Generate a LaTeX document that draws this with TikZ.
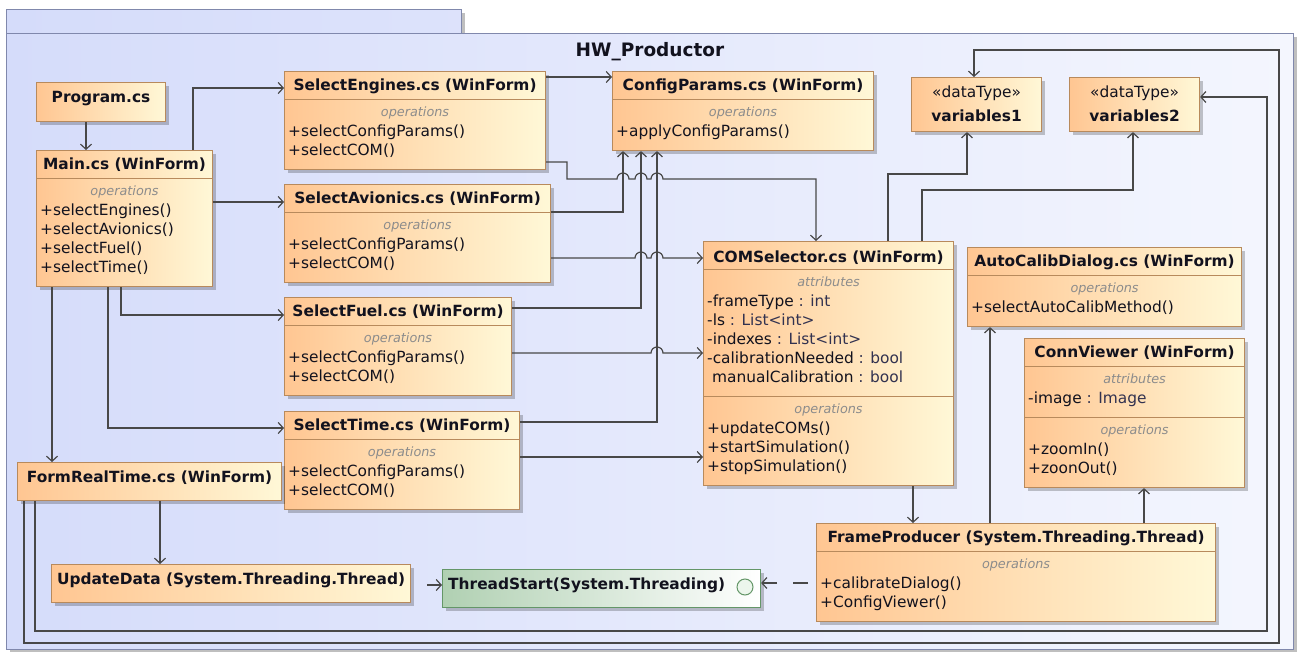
\documentclass[tikz,border=0pt]{standalone}
\usepackage{fontspec}
\setmainfont{DejaVu Sans}
\usetikzlibrary{arrows.meta,shadows}

\definecolor{pkgL}{RGB}{213,220,250}
\definecolor{pkgR}{RGB}{244,246,254}
\definecolor{pkgB}{RGB}{128,136,172}
\definecolor{clsL}{RGB}{255,198,146}
\definecolor{clsR}{RGB}{255,248,215}
\definecolor{clsB}{RGB}{184,138,92}
\definecolor{itfL}{RGB}{176,208,178}
\definecolor{itfR}{RGB}{255,255,255}
\definecolor{itfB}{RGB}{100,150,104}
\definecolor{itfC}{RGB}{236,246,236}
\definecolor{lineC}{RGB}{72,72,72}
\definecolor{secC}{RGB}{140,140,140}
\definecolor{txtC}{RGB}{18,18,30}
\definecolor{typC}{RGB}{50,50,80}

\tikzset{
  pkgbox/.style={draw=pkgB, line width=1.2pt, left color=pkgL, right color=pkgR, inner sep=0pt, anchor=north west,
    drop shadow={shadow xshift=3pt, shadow yshift=-3pt, fill=black, opacity=0.25}},
  cls/.style={draw=clsB, line width=1.1pt, left color=clsL, right color=clsR, inner sep=0pt, anchor=north west,
    drop shadow={shadow xshift=3pt, shadow yshift=-3pt, fill=black, opacity=0.22}},
  itf/.style={cls, draw=itfB, left color=itfL, right color=itfR},
  sep/.style={draw=clsB, line width=0.9pt},
  nm/.style={font=\fontsize{15.4}{18}\selectfont\bfseries, text=txtC, inner sep=0pt, anchor=base},
  st/.style={font=\fontsize{15.4}{18}\selectfont, text=txtC, inner sep=0pt, anchor=base},
  sec/.style={font=\fontsize{12.8}{15}\selectfont\itshape, text=secC, inner sep=0pt, anchor=base},
  mem/.style={font=\fontsize{15.4}{18}\selectfont, text=txtC, inner sep=0pt, anchor=base west},
  assoc/.style={draw=lineC, line width=1.2pt, -{Straight Barb[length=5pt,width=11pt]}},
  real/.style={assoc, dash pattern=on 15pt off 16pt},
  hop/.style={start angle=180, end angle=0, radius=6pt},
}
% attribute type, set slightly lighter than its name
\newcommand{\attrtype}[1]{\textcolor{typC}{#1}}

\begin{document}
\begin{tikzpicture}[x=1pt,y=-1pt]
\useasboundingbox (0,0) rectangle (1298,652);
\fill[white] (0,0) rectangle (1298,652);

% package frame
\node[pkgbox, left color=pkgL, right color=pkgL!75!pkgR, minimum width=455pt, minimum height=25pt] (pkg-tab) at (6,9) {};
\node[pkgbox, minimum width=1287pt, minimum height=616pt] (pkg) at (6,33) {};
\node[font=\fontsize{18.5}{22}\selectfont\bfseries, text=txtC, inner sep=0pt, anchor=base] (pkg-n) at (650,57) {HW\_Productor};

% Program.cs
\node[cls, minimum width=129pt, minimum height=39pt] (prog) at (36,82) {};
\node[nm] (prog-n) at (prog.north |- 0,102.5) {Program.cs};

% Main.cs
\node[cls, minimum width=176pt, minimum height=136pt] (main) at (36,150) {};
\draw[sep] (main.west |- 0,178) -- (main.east |- 0,178);
\node[nm] (main-n) at (main.north |- 0,169.5) {Main.cs (WinForm)};
\node[sec] (main-s) at (main.north |- 0,195.5) {operations};
\node[mem] (main-m1) at (40,215.5) {+selectEngines()};
\node[mem] (main-m2) at (40,234.5) {+selectAvionics()};
\node[mem] (main-m3) at (40,253.5) {+selectFuel()};
\node[mem] (main-m4) at (40,272.5) {+selectTime()};

% SelectEngines.cs
\node[cls, minimum width=261pt, minimum height=98pt] (eng) at (284,71) {};
\draw[sep] (eng.west |- 0,99) -- (eng.east |- 0,99);
\node[nm] (eng-n) at (eng.north |- 0,90.5) {SelectEngines.cs (WinForm)};
\node[sec] (eng-s) at (eng.north |- 0,116.5) {operations};
\node[mem] (eng-m1) at (288,136.5) {+selectConfigParams()};
\node[mem] (eng-m2) at (288,155.5) {+selectCOM()};

% ConfigParams.cs
\node[cls, minimum width=261pt, minimum height=79pt] (cfg) at (612,71) {};
\draw[sep] (cfg.west |- 0,99) -- (cfg.east |- 0,99);
\node[nm] (cfg-n) at (cfg.north |- 0,90.5) {ConfigParams.cs (WinForm)};
\node[sec] (cfg-s) at (cfg.north |- 0,116.5) {operations};
\node[mem] (cfg-m1) at (616,136.5) {+applyConfigParams()};

% SelectAvionics.cs
\node[cls, minimum width=266pt, minimum height=98pt] (avi) at (284,184) {};
\draw[sep] (avi.west |- 0,212) -- (avi.east |- 0,212);
\node[nm] (avi-n) at (avi.north |- 0,203.5) {SelectAvionics.cs (WinForm)};
\node[sec] (avi-s) at (avi.north |- 0,229.5) {operations};
\node[mem] (avi-m1) at (288,249.5) {+selectConfigParams()};
\node[mem] (avi-m2) at (288,268.5) {+selectCOM()};

% SelectFuel.cs
\node[cls, minimum width=227pt, minimum height=98pt] (fuel) at (284,297) {};
\draw[sep] (fuel.west |- 0,325) -- (fuel.east |- 0,325);
\node[nm] (fuel-n) at (fuel.north |- 0,316.5) {SelectFuel.cs (WinForm)};
\node[sec] (fuel-s) at (fuel.north |- 0,342.5) {operations};
\node[mem] (fuel-m1) at (288,362.5) {+selectConfigParams()};
\node[mem] (fuel-m2) at (288,381.5) {+selectCOM()};

% SelectTime.cs
\node[cls, minimum width=235pt, minimum height=98pt] (time) at (284,411) {};
\draw[sep] (time.west |- 0,439) -- (time.east |- 0,439);
\node[nm] (time-n) at (time.north |- 0,430.5) {SelectTime.cs (WinForm)};
\node[sec] (time-s) at (time.north |- 0,456.5) {operations};
\node[mem] (time-m1) at (288,476.5) {+selectConfigParams()};
\node[mem] (time-m2) at (288,495.5) {+selectCOM()};

% COMSelector.cs
\node[cls, minimum width=250pt, minimum height=244pt] (com) at (703,241) {};
\draw[sep] (com.west |- 0,269) -- (com.east |- 0,269);
\draw[sep] (com.west |- 0,396) -- (com.east |- 0,396);
\node[nm] (com-n) at (com.north |- 0,262.5) {COMSelector.cs (WinForm)};
\node[sec] (com-s1) at (com.north |- 0,286.5) {attributes};
\node[mem] (com-a1) at (707,306.5) {-frameType \attrtype{: int}};
\node[mem] (com-a2) at (707,325.5) {-ls \attrtype{: List<int>}};
\node[mem] (com-a3) at (707,344.5) {-indexes \attrtype{: List<int>}};
\node[mem] (com-a4) at (707,363.5) {-calibrationNeeded \attrtype{: bool}};
\node[mem] (com-a5) at (707,382.5) {\ manualCalibration \attrtype{: bool}};
\node[sec] (com-s2) at (com.north |- 0,413.5) {operations};
\node[mem] (com-m1) at (707,433.5) {+updateCOMs()};
\node[mem] (com-m2) at (707,452.5) {+startSimulation()};
\node[mem] (com-m3) at (707,471.5) {+stopSimulation()};

% AutoCalibDialog.cs
\node[cls, minimum width=274pt, minimum height=79pt] (auto) at (967,247) {};
\draw[sep] (auto.west |- 0,275) -- (auto.east |- 0,275);
\node[nm] (auto-n) at (auto.north |- 0,266.5) {AutoCalibDialog.cs (WinForm)};
\node[sec] (auto-s) at (auto.north |- 0,292.5) {operations};
\node[mem] (auto-m1) at (971,312.5) {+selectAutoCalibMethod()};

% ConnViewer
\node[cls, minimum width=220pt, minimum height=149pt] (conn) at (1024,338) {};
\draw[sep] (conn.west |- 0,366) -- (conn.east |- 0,366);
\draw[sep] (conn.west |- 0,417) -- (conn.east |- 0,417);
\node[nm] (conn-n) at (conn.north |- 0,357.5) {ConnViewer (WinForm)};
\node[sec] (conn-s1) at (conn.north |- 0,383.5) {attributes};
\node[mem] (conn-a1) at (1028,403.5) {-image \attrtype{: Image}};
\node[sec] (conn-s2) at (conn.north |- 0,434.5) {operations};
\node[mem] (conn-m1) at (1028,454.5) {+zoomIn()};
\node[mem] (conn-m2) at (1028,473.5) {+zoonOut()};

% FrameProducer
\node[cls, minimum width=399pt, minimum height=98pt] (frame) at (816,523) {};
\draw[sep] (frame.west |- 0,551) -- (frame.east |- 0,551);
\node[nm] (frame-n) at (frame.north |- 0,542.5) {FrameProducer (System.Threading.Thread)};
\node[sec] (frame-s) at (frame.north |- 0,568.5) {operations};
\node[mem] (frame-m1) at (820,588.5) {+calibrateDialog()};
\node[mem] (frame-m2) at (820,607.5) {+ConfigViewer()};

% FormRealTime.cs
\node[cls, minimum width=264pt, minimum height=38pt] (frt) at (17,462) {};
\node[nm] (frt-n) at (frt.north |- 0,482.5) {FormRealTime.cs (WinForm)};

% UpdateData
\node[cls, minimum width=359pt, minimum height=38pt] (upd) at (51,564) {};
\node[nm] (upd-n) at (upd.north |- 0,584.5) {UpdateData (System.Threading.Thread)};

% ThreadStart interface
\node[itf, minimum width=318pt, minimum height=38pt] (ts) at (442,569) {};
\node[nm, anchor=base west] (ts-n) at (448,589) {ThreadStart(System.Threading)};
\node[circle, draw=itfB, fill=itfC, line width=1pt, minimum size=16pt, inner sep=0pt] (ts-c) at (745,587) {};

% data types
\node[cls, minimum width=130pt, minimum height=54pt] (v1) at (911,77) {};
\node[st] (v1-s) at (v1.north |- 0,97.5) {«dataType»};
\node[nm] (v1-n) at (v1.north |- 0,121.5) {variables1};
\node[cls, minimum width=130pt, minimum height=54pt] (v2) at (1069,77) {};
\node[st] (v2-s) at (v2.north |- 0,97.5) {«dataType»};
\node[nm] (v2-n) at (v2.north |- 0,121.5) {variables2};

% associations from Program and Main
\draw[assoc] (prog.south -| 86,0) -- (main.north -| 86,0);
\draw[assoc] (main.north -| 193,0) |- (eng.west |- 0,88);
\draw[assoc] (main.east |- 0,202) -- (avi.west |- 0,202);
\draw[assoc] (main.south -| 121,0) |- (fuel.west |- 0,315);
\draw[assoc] (main.south -| 108,0) |- (time.west |- 0,428);
\draw[assoc] (main.south -| 52,0) -- (frt.north -| 52,0);

% selection forms to ConfigParams
\draw[assoc] (eng.east |- 0,77) -- (cfg.west |- 0,77);
\draw[assoc] (avi.east |- 0,212) -| (cfg.south -| 623,0);
\draw[assoc] (fuel.east |- 0,308) -| (cfg.south -| 641,0);
\draw[assoc] (time.east |- 0,422) -| (cfg.south -| 657,0);

% selection forms to COMSelector (hopping over the vertical lines)
\draw[assoc] (eng.east |- 0,162) -- (567,162) -- (567,179) -- (617,179) arc[hop]
  -- (635,179) arc[hop] -- (651,179) arc[hop] -- (816,179) -- (com.north -| 816,0);
\draw[assoc] (avi.east |- 0,258) -- (635,258) arc[hop] -- (651,258) arc[hop] -- (com.west |- 0,258);
\draw[assoc] (fuel.east |- 0,353) -- (651,353) arc[hop] -- (com.west |- 0,353);
\draw[assoc] (time.east |- 0,457) -- (com.west |- 0,457);

% COMSelector to data types and thread
\draw[assoc] (com.north -| 888,0) -- (888,174) -| (v1.south -| 967,0);
\draw[assoc] (com.north -| 922,0) -- (922,190) -| (v2.south -| 1133,0);
\draw[assoc] (com.south -| 913,0) -- (frame.north -| 913,0);

% FrameProducer to dialogs
\draw[assoc] (frame.north -| 990,0) -- (auto.south -| 990,0);
\draw[assoc] (frame.north -| 1144,0) -- (conn.south -| 1144,0);

% realizations of ThreadStart
\draw[real, dash phase=23pt] (frame.west |- 0,583) -- (ts.east |- 0,583);
\draw[real, dash phase=15pt] (upd.east |- 0,585) -- (ts.west |- 0,585);

% FormRealTime links
\draw[assoc] (frt.south -| 160,0) -- (upd.north -| 160,0);
\draw[assoc] (frt.south -| 24,0) -- (24,643) -- (1279,643) -- (1279,50) -- (974,50) -- (v1.north -| 974,0);
\draw[assoc] (frt.south -| 35,0) -- (35,631) -- (1267,631) -- (1267,97) -- (v2.east |- 0,97);
\end{tikzpicture}
\end{document}
